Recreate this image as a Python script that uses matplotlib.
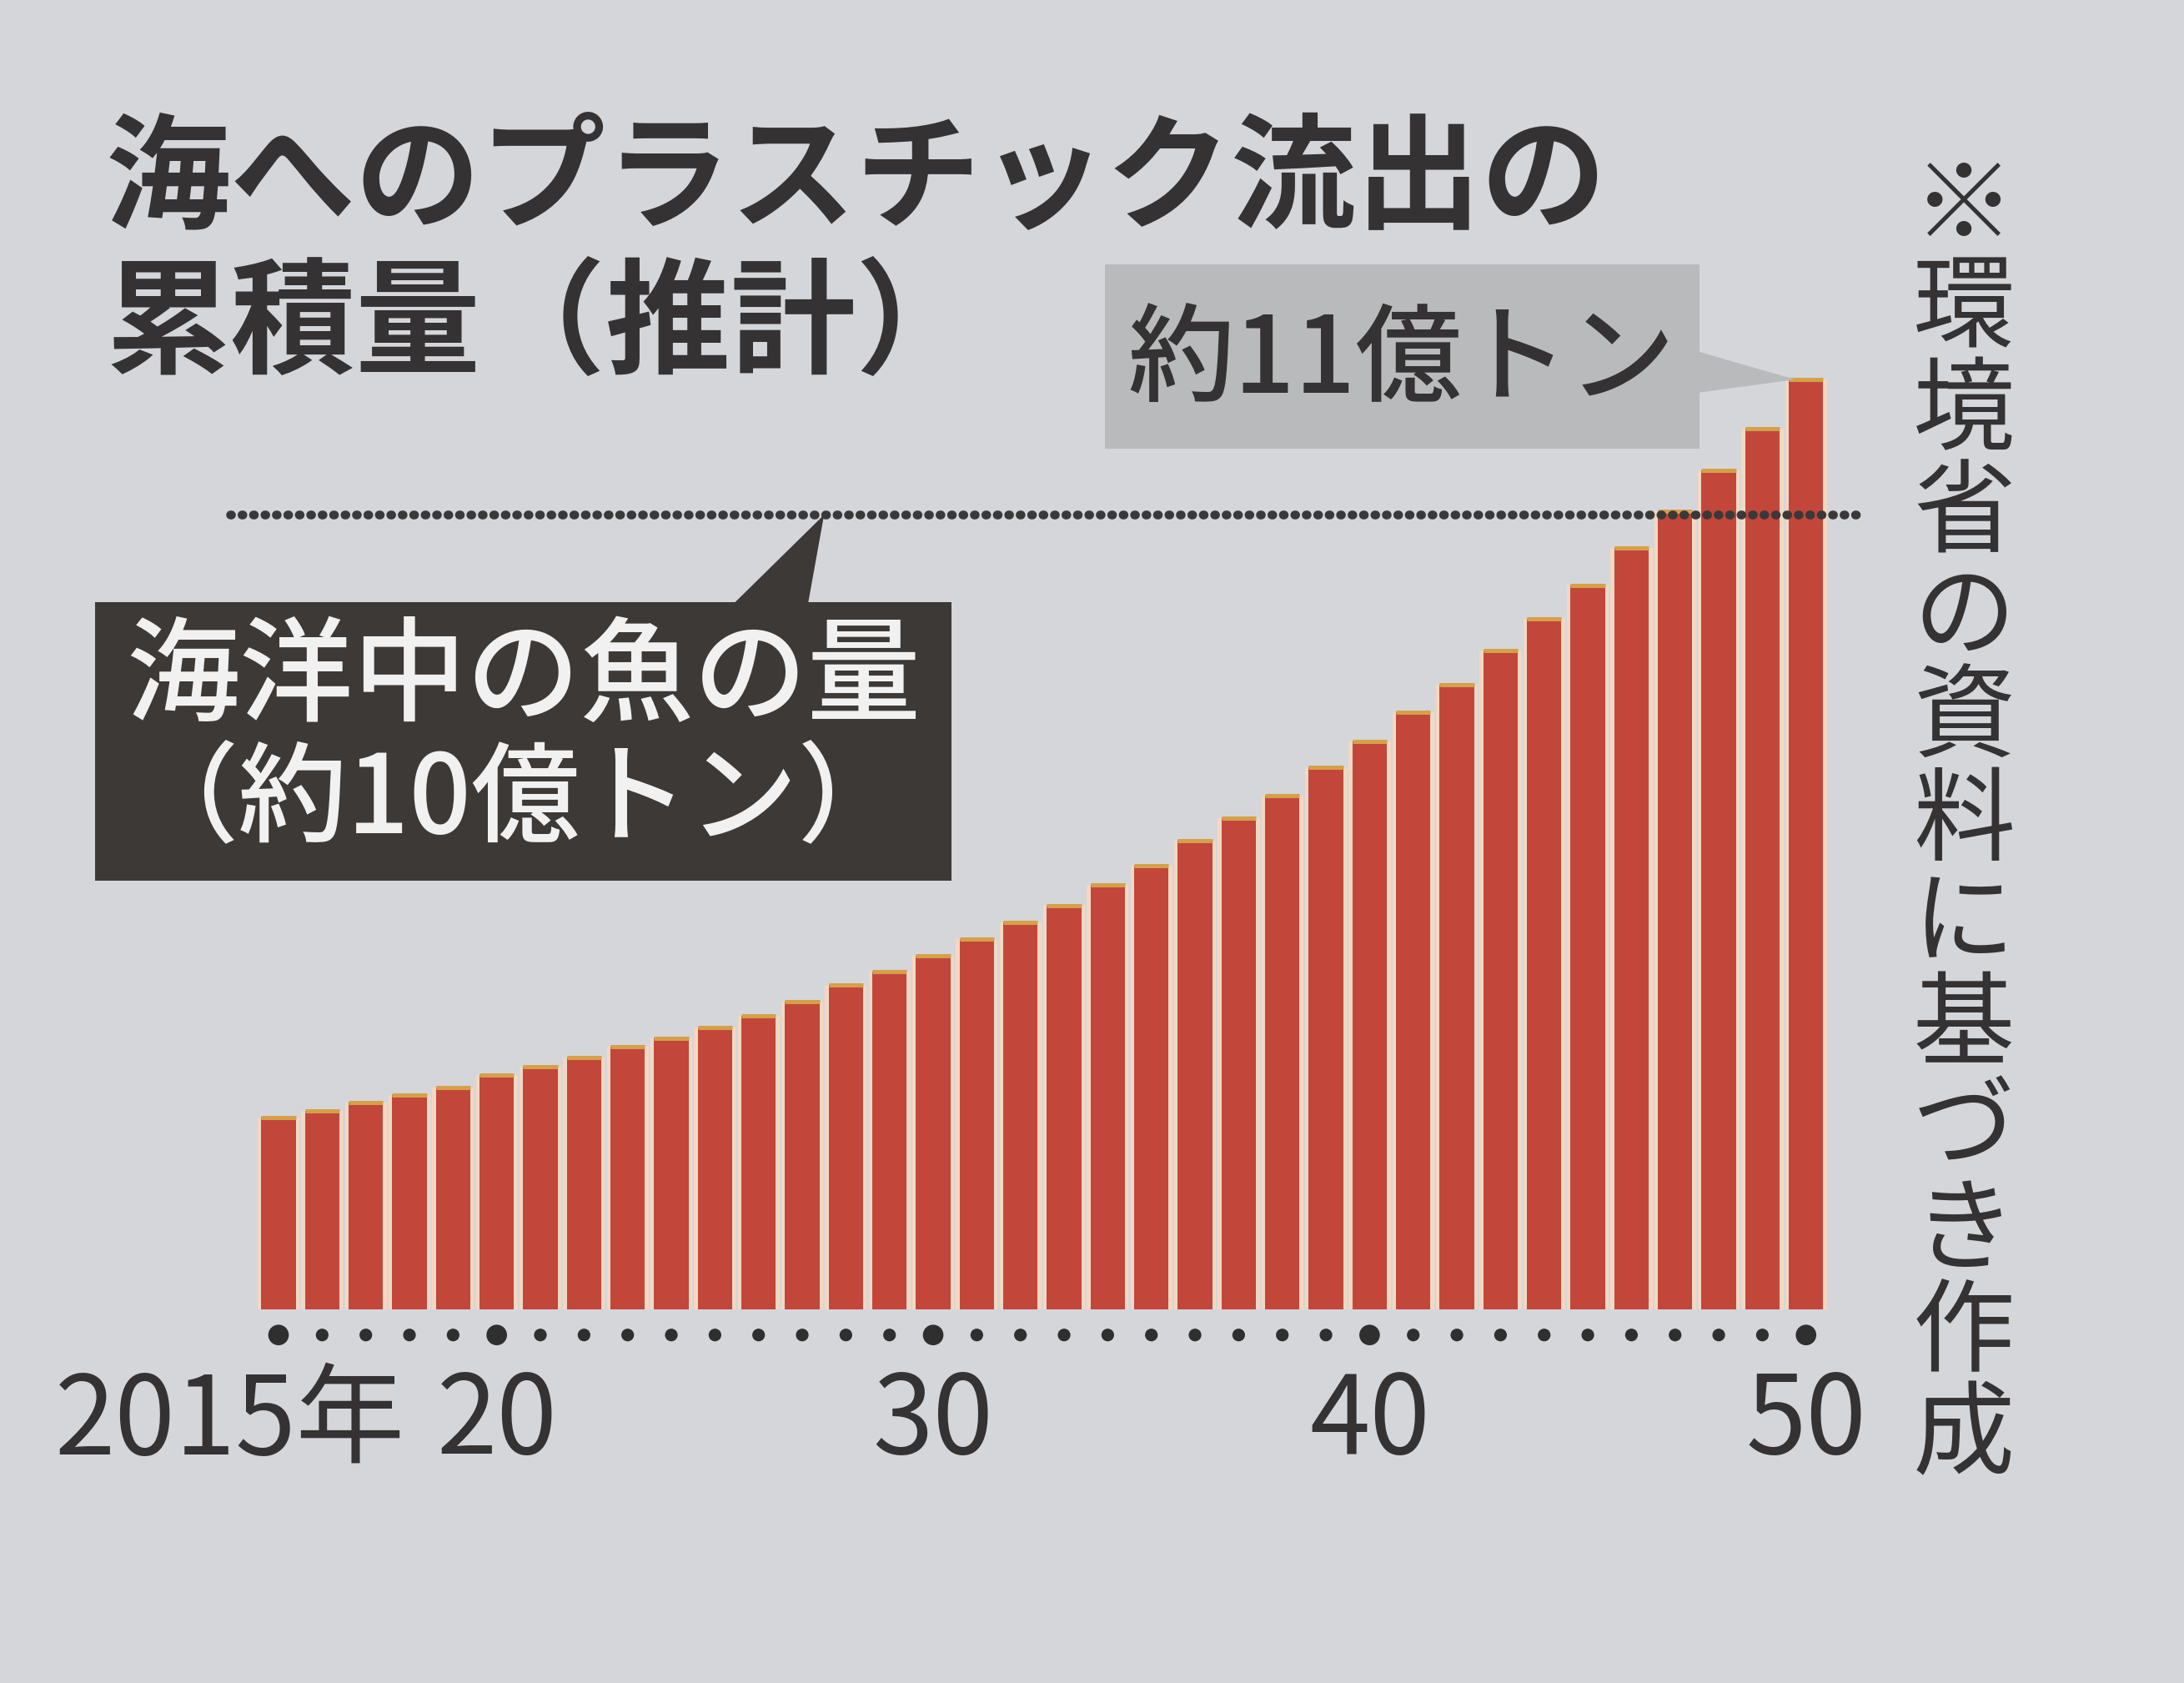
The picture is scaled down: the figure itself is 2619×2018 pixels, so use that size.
import numpy as np
import matplotlib
matplotlib.use("Agg")
import matplotlib.pyplot as plt
from matplotlib.patches import Polygon, Rectangle

plt.rcParams['font.family'] = ['Noto Sans CJK JP', 'DejaVu Sans']

# cumulative plastic outflow (100 million t)
years = list(range(2015, 2051))
amount = [2.27, 2.35, 2.45, 2.54, 2.63, 2.77, 2.87, 2.98, 3.11, 3.21,
          3.34, 3.47, 3.64, 3.84, 4.00, 4.18, 4.38, 4.58, 4.78, 5.02,
          5.25, 5.55, 5.81, 6.08, 6.41, 6.72, 7.06, 7.39, 7.79, 8.17,
          8.56, 9.01, 9.44, 9.93, 10.42, 11.00]
fish_level = 9.4

major_years = [2015, 2020, 2030, 2040, 2050]
tick_labels = ['2015年', '20', '30', '40', '50']

title_lines = ['海へのプラスチック流出の', '累積量（推計）']
plastic_label = '約11億トン'
fish_lines = ['海洋中の魚の量', '（約10億トン）']
source_note = '※環境省の資料に基づき作成'

BG = '#d4d6da'
RED = '#c3463b'
CREAM = '#f2d8c2'
GOLD = '#d6a049'
INK = '#343232'

# layout grid (reference picture scaled to 1568 x 1208)
W, H = 1568.0, 1208.0
def fx(x):
    return x / W
def fy(y):
    return 1 - y / H

fig = plt.figure(figsize=(13.095, 10.09), dpi=200)
fig.patch.set_facecolor(BG)

ax = fig.add_axes([fx(184.3), fy(940), 1128 / W, 789 / H])
ax.set_xlim(2014.5, 2050.5)
ax.set_ylim(0, 13)
ax.axis('off')

yrs = np.array(years)
ax.bar(yrs, amount, width=0.96, color=CREAM, zorder=2)
ax.bar(yrs, amount, width=0.79, color=RED, zorder=3)
ax.hlines(amount, yrs - 0.395, yrs + 0.395, color=GOLD, lw=1.8, zorder=4)

# fish amount reference line
ax.axhline(fish_level, xmin=-0.017, xmax=1.02, color='#3a3838', lw=3.8,
           linestyle=(0, (0.1, 1.2)), dash_capstyle='round', clip_on=False, zorder=5)

# axis dots
sizes = [62 if y in major_years else 20 for y in years]
ax.scatter(yrs, np.full(len(yrs), -0.30), s=sizes, color='#2f2f30', clip_on=False, zorder=5)

for yr, lab in zip(major_years, tick_labels):
    if yr == 2015:
        ax.text(2017.9, -1.34, lab, ha='right', va='center', fontsize=47, color=INK, clip_on=False)
    else:
        ax.text(yr, -1.34, lab, ha='center', va='center', fontsize=47, color=INK, clip_on=False)

# title
fig.text(fx(76), fy(130), title_lines[0], fontsize=54, fontweight='bold', color=INK, va='center')
fig.text(fx(76), fy(235), title_lines[1], fontsize=54, fontweight='bold', color=INK, va='center')

# data -> figure fraction for pointer tips
def to_fig(x, y):
    return fig.transFigure.inverted().transform(ax.transData.transform((x, y)))

# light grey label for 2050
fig.patches.append(Rectangle((fx(793), fy(322)), (1220 - 793) / W, (322 - 190) / H,
                             transform=fig.transFigure, facecolor='#b9babc', edgecolor='none'))
tip = to_fig(2049.75, amount[-1])
fig.patches.append(Polygon([(fx(1218), fy(252)), (fx(1218), fy(282)), tuple(tip)],
                           transform=fig.transFigure, facecolor='#b9babc', edgecolor='none'))
fig.text(fx(1006), fy(260), plastic_label, fontsize=46, fontweight='medium', color=INK,
         ha='center', va='center')

# dark label for fish
fig.patches.append(Rectangle((fx(68), fy(632)), (683 - 68) / W, (632 - 432) / H,
                             transform=fig.transFigure, facecolor='#3c3937', edgecolor='none'))
tip = to_fig(2027.5, fish_level)
fig.patches.append(Polygon([(fx(526), fy(434)), (fx(580), fy(434)), tuple(tip)],
                           transform=fig.transFigure, facecolor='#3c3937', edgecolor='none'))
fig.text(fx(376), fy(488), fish_lines[0], fontsize=49, fontweight='medium', color='#f1f1f1',
         ha='center', va='center')
fig.text(fx(372), fy(575), fish_lines[1], fontsize=47, fontweight='medium', color='#f1f1f1',
         ha='center', va='center')

# vertical source note
for i, ch in enumerate(source_note):
    fig.text(fx(1410), fy(150 + i * 73.5), ch, fontsize=44, color=INK, ha='center', va='center')

fig.savefig('out.png', dpi=200, facecolor=BG)
